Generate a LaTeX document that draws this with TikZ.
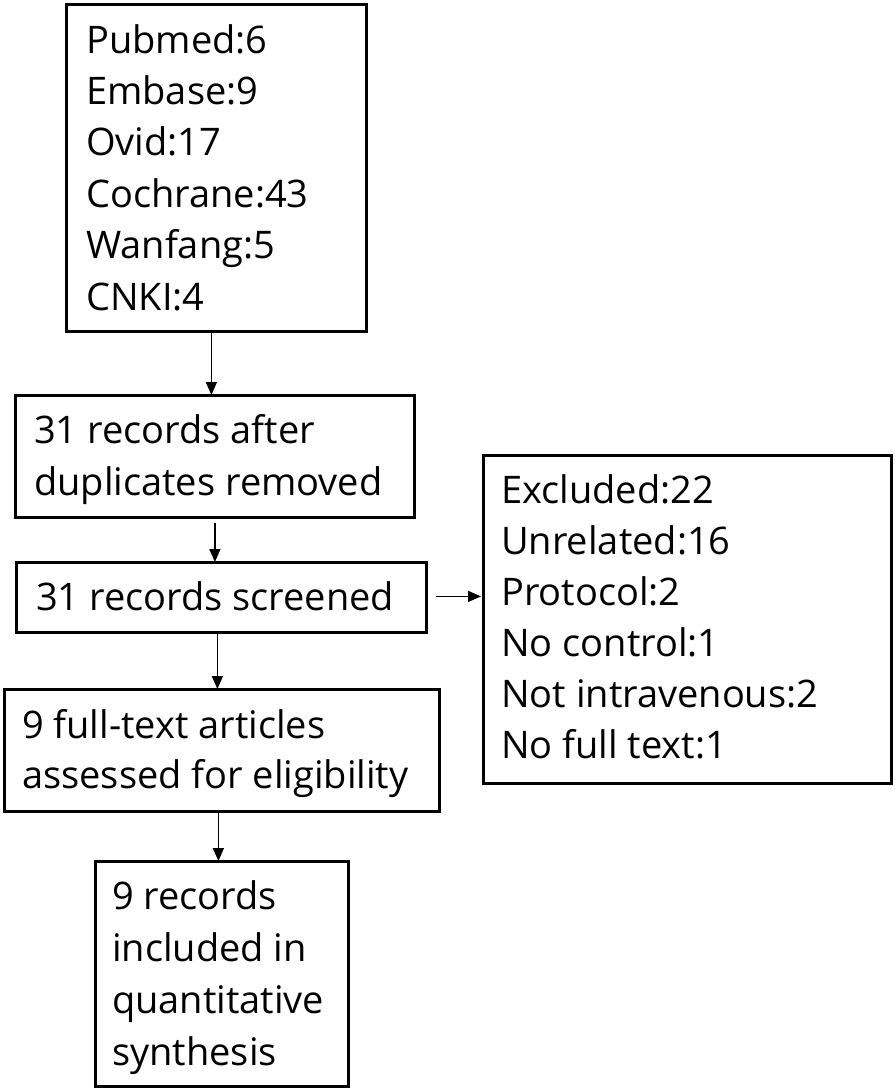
\documentclass[tikz,border=0pt]{standalone}
\usepackage{fontspec}
\setmainfont{Open Sans}
\usetikzlibrary{arrows.meta}
\begin{document}
\begin{tikzpicture}[x=1pt,y=-1pt,
  box/.style={draw, line width=2.8pt, anchor=north west, inner sep=0pt},
  txt/.style={anchor=base west, align=left, inner sep=0pt, font=\fontsize{38}{51.4}\selectfont},
  arr/.style={line width=1.5pt, -{Triangle[length=13pt,width=11pt]}}]
\useasboundingbox (0,0) rectangle (894,1089);
% boxes
\node[box, minimum width=300pt, minimum height=327pt] (b1) at (65,3) {};
\node[box, minimum width=399pt, minimum height=122pt] (b2) at (14,394) {};
\node[box, minimum width=410pt, minimum height=70pt] (b3) at (15,561) {};
\node[box, minimum width=408pt, minimum height=328pt] (br) at (482,454) {};
\node[box, minimum width=435pt, minimum height=122pt] (b4) at (3,688) {};
\node[box, minimum width=253pt, minimum height=225pt] (b5) at (94,860) {};
% texts (anchored at the baseline of the last line)
\node[txt] (t1) at (86,310) {Pubmed:6\\Embase:9\\Ovid:17\\Cochrane:43\\Wanfang:5\\CNKI:4};
\node[txt, font=\fontsize{38}{52}\selectfont] (t2) at (34,495) {31 records after\\duplicates removed};
\node[txt] (t3) at (36,610) {31 records screened};
\node[txt, font=\fontsize{38}{51}\selectfont] (tr) at (501,758) {Excluded:22\\Unrelated:16\\Protocol:2\\No control:1\\Not intravenous:2\\No full text:1};
\node[txt, font=\fontsize{38}{50}\selectfont] (t4) at (22,788) {9 full-text articles\\assessed for eligibility};
\node[txt, font=\fontsize{38}{51.7}\selectfont] (t5) at (112,1065) {9 records\\included in\\quantitative\\synthesis};
% connectors
\coordinate (a1) at ([xshift=-5pt]b1.south);
\draw[arr] (a1) -- ([yshift=-1pt]a1 |- b2.north);
\coordinate (a2) at ([yshift=-4pt]b2.south);
\draw[arr] (a2) -- ([yshift=-1pt]a2 |- b3.north);
\coordinate (a3) at ([xshift=-4pt]b3.south);
\draw[arr] (a3) -- ([yshift=-1pt]a3 |- b4.north);
\coordinate (a4) at ([xshift=-3.5pt]b4.south);
\draw[arr] (a4) -- ([yshift=-1pt]a4 |- b5.north);
\coordinate (a5) at ([xshift=8pt,yshift=1pt]b3.east);
\draw[arr] (a5) -- ([xshift=-1pt]a5 -| br.west);
\end{tikzpicture}
\end{document}
